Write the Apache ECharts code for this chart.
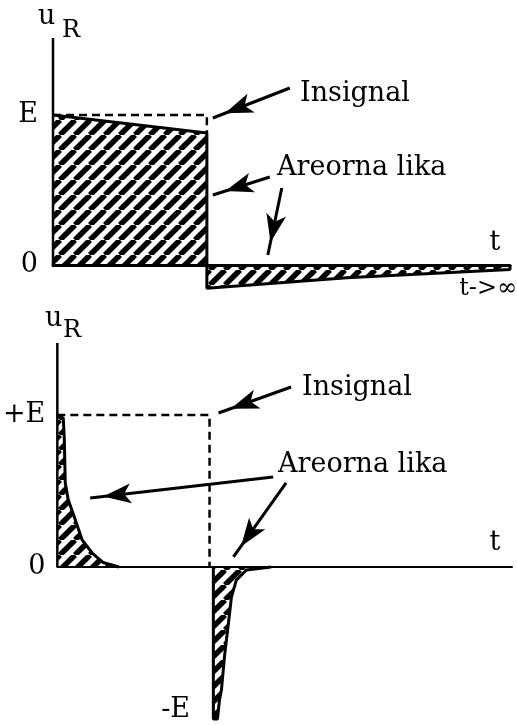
<!DOCTYPE html>
<html>
<head>
<meta charset="utf-8">
<script src="https://cdn.jsdelivr.net/npm/echarts@6/dist/echarts.min.js"></script>
<style>
  html, body { margin: 0; padding: 0; background: #fff; }
  #chart { width: 517px; height: 725px; }
</style>
</head>
<body>
<div id="chart"></div>
<script>
// top: long time constant, bottom: short time constant (pulse width = 1, level E = 1)
const topT = [0, 1, 1, 1.91, 2.97, 2.97];
const topU = [1, 0.88, -0.155, -0.085, -0.03, 0];

const botPosT = [0, 0.039, 0.046, 0.052, 0.072, 0.111, 0.163, 0.229, 0.3, 0.405];
const botPosU = [1, 0.98, 0.836, 0.553, 0.44, 0.33, 0.178, 0.092, 0.03, 0];
const botNegT = [1.025, 1.025, 1.052, 1.065, 1.078, 1.098, 1.124, 1.144, 1.176, 1.242, 1.405];
const botNegU = [0, -1, -1, -0.875, -0.81, -0.59, -0.37, -0.197, -0.086, -0.02, 0];

const inputT = [0, 1, 1];
const topInputU = [1, 1, 0.88];
const botInputU = [1, 1, 0];

const topTickValues = [0, 1];
const topTickLabels = ["0", "E"];
const botTickValues = [0, 1];
const botTickLabels = ["0", "+E"];

const FONT = "DejaVu Serif";

const zip = (xs, ys) => xs.map((x, i) => [x, ys[i]]);

function hatch() {
  const s = 15;
  const c = document.createElement("canvas");
  c.width = s;
  c.height = s;
  const g = c.getContext("2d");
  g.strokeStyle = "#000";
  g.lineWidth = 5.5;
  for (const o of [-s, 0, s]) {
    g.beginPath();
    g.moveTo(o, s);
    g.lineTo(o + s, 0);
    g.stroke();
  }
  return c;
}
const hatchFill = { image: hatch(), repeat: "repeat" };

function arrow(from, to) {
  return [
    { coord: from, symbol: "none" },
    { coord: to, symbol: "arrow", symbolSize: [15, 28], symbolOffset: [0, 13] },
  ];
}

function signal(data, idx) {
  return {
    type: "line",
    xAxisIndex: idx,
    yAxisIndex: idx,
    data,
    showSymbol: false,
    clip: false,
    lineStyle: { color: "#000", width: 3 },
    areaStyle: { color: hatchFill, opacity: 1 },
    z: 3,
  };
}

function plain(data, idx, width, dashed) {
  return {
    type: "line",
    xAxisIndex: idx,
    yAxisIndex: idx,
    data,
    showSymbol: false,
    clip: false,
    lineStyle: { color: "#000", width, type: dashed ? [8, 5] : "solid" },
    z: 4,
  };
}

function axesPair(idx, max, min, ymax, ticks, labels, margin) {
  return {
    x: {
      type: "value", gridIndex: idx, min: 0, max,
      axisLine: { onZero: true, lineStyle: { color: "#000", width: idx === 0 ? 3 : 2 } },
      axisTick: { show: false }, axisLabel: { show: false }, splitLine: { show: false },
    },
    y: {
      type: "value", gridIndex: idx, min, max: ymax,
      axisLine: { show: false }, axisTick: { show: false }, splitLine: { show: false },
      axisLabel: {
        customValues: ticks,
        margin,
        color: "#000",
        fontFamily: FONT,
        fontSize: 27,
        formatter: (v) => labels[ticks.indexOf(v)] ?? "",
      },
    },
  };
}

const topAxes = axesPair(0, 2.97, -0.2, 1.52, topTickValues, topTickLabels, 15);
const botAxes = axesPair(1, 2.987, -1.02, 1.5, botTickValues, botTickLabels, 12);

const textStyle = (size) => ({ fill: "#000", fontFamily: FONT, fontSize: size });
function label(text, x, y, size, align) {
  return {
    type: "text", x, y,
    style: { ...textStyle(size), text, align: align || "left", verticalAlign: "middle" },
  };
}

const chart = echarts.init(document.getElementById("chart"));
chart.setOption({
  animation: false,
  backgroundColor: "#fff",
  grid: [
    { left: 53, top: 37, width: 457, height: 258 },
    { left: 55, top: 339, width: 457, height: 383.04 },
  ],
  xAxis: [topAxes.x, botAxes.x],
  yAxis: [topAxes.y, botAxes.y],
  series: [
    // top panel
    signal(zip(topT, topU), 0),
    plain(zip(inputT, topInputU), 0, 2.5, true),
    {
      ...plain([[0, 0], [0, 1.513]], 0, 2.5, false),
      markLine: {
        silent: true,
        animation: false,
        label: { show: false },
        lineStyle: { color: "#000", width: 3, type: "solid" },
        data: [
          arrow([1.539, 1.18], [1.039, 0.98]),
          arrow([1.409, 0.587], [1.039, 0.467]),
          arrow([1.487, 0.513], [1.396, 0.067]),
        ],
      },
    },
    // bottom panel
    signal(zip(botPosT, botPosU), 1),
    signal(zip(botNegT, botNegU), 1),
    plain(zip(inputT, botInputU), 1, 2.5, true),
    {
      ...plain([[0, 0], [0, 1.474]], 1, 2.5, false),
      markLine: {
        silent: true,
        animation: false,
        label: { show: false },
        lineStyle: { color: "#000", width: 3, type: "solid" },
        data: [
          arrow([1.536, 1.184], [1.059, 1.013]),
          arrow([1.418, 0.592], [0.216, 0.454]),
          arrow([1.503, 0.553], [1.157, 0.066]),
        ],
      },
    },
  ],
  graphic: [
    label("u", 38, 17, 27),
    label("R", 62, 31, 24),
    label("Insignal", 300, 94, 27),
    label("Areorna lika", 277, 168, 27),
    label("t", 495, 243, 27, "center"),
    label("t->\u221e", 517, 289, 24, "right"),
    label("u", 45, 319, 27),
    label("R", 63, 331, 24),
    label("Insignal", 302, 388, 27),
    label("Areorna lika", 278, 465, 27),
    label("t", 495, 543, 27, "center"),
    label("-E", 190, 710, 27, "right"),
  ],
});
</script>
</body>
</html>
